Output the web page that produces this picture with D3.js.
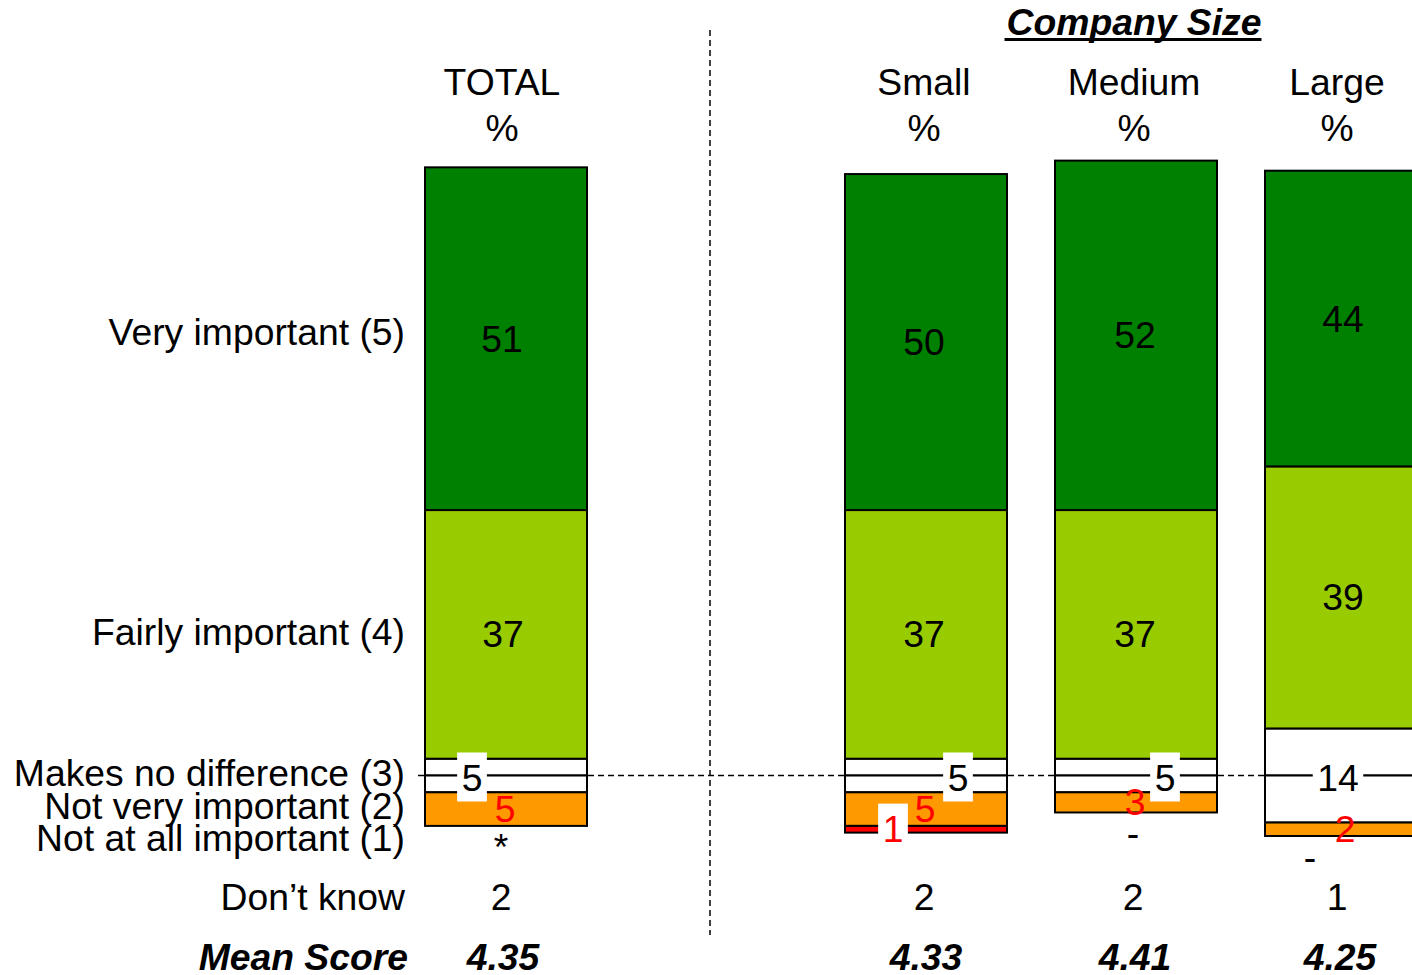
<!DOCTYPE html>
<html><head><meta charset="utf-8">
<script src="https://cdn.jsdelivr.net/npm/d3@7"></script>
<style>body{margin:0;background:#fff}svg{display:block}text{font-family:"Liberation Sans",Arial,sans-serif}</style>
</head><body><svg id="c" width="1412" height="975"></svg>
<script>
// ---- data ----
const groups = ["TOTAL", "Small", "Medium", "Large"];
const veryImportant = [51, 50, 52, 44];
const fairlyImportant = [37, 37, 37, 39];
const noDifference = [5, 5, 5, 14];
const notVeryImportant = [5, 5, 3, 2];
const notAtAllImportant = [0, 1, 0, 0];
const notAtAllLabels = ["*", "1", "-", "-"];
const dontKnow = ["2", "2", "2", "1"];
const meanScore = ["4.35", "4.33", "4.41", "4.25"];
const rowLabels = ["Very important (5)", "Fairly important (4)", "Makes no difference (3)", "Not very important (2)", "Not at all important (1)"];
const superTitle = "Company Size";

// ---- layout ----
const FS = 37.3;
const svg = d3.select("#c");
const slots = ["TOTAL", "_gap", "Small", "Medium", "Large"];
const x = d3.scaleBand().domain(slots).range([425, 1427]).paddingInner(48 / 210).paddingOuter(0).align(0);
const y = d3.scaleLinear().domain([0, 1]).range([775.5, 775.5 - 6.72]);
const cx = g => x(g) + x.bandwidth() / 2;
const colors = { very: "#008000", fairly: "#99CC00", neutral: "#FFFFFF", notVery: "#FF9900", notAtAll: "#FF0000" };

// dashed guides
svg.append("line").attr("x1", 710).attr("x2", 710).attr("y1", 30).attr("y2", 935)
  .attr("stroke", "#000").attr("stroke-width", 1.5).attr("stroke-dasharray", "6,4");
svg.append("line").attr("x1", 418).attr("x2", 1412).attr("y1", y(0)).attr("y2", y(0))
  .attr("stroke", "#000").attr("stroke-width", 1.5).attr("stroke-dasharray", "6,4");

// segments
const segs = [];
groups.forEach((g, i) => {
  const n = noDifference[i] / 2;
  const f = fairlyImportant[i], v = veryImportant[i], nv = notVeryImportant[i], na = notAtAllImportant[i];
  segs.push({ g, key: "neutral", y0: 0, y1: n });
  segs.push({ g, key: "fairly", y0: n, y1: n + f });
  segs.push({ g, key: "very", y0: n + f, y1: n + f + v });
  segs.push({ g, key: "neutral", y0: -n, y1: 0 });
  segs.push({ g, key: "notVery", y0: -n - nv, y1: -n });
  segs.push({ g, key: "notAtAll", y0: -n - nv - na, y1: -n - nv });
});
svg.append("g").selectAll("rect").data(segs.filter(s => s.y1 - s.y0 > 0)).join("rect")
  .attr("x", d => x(d.g)).attr("width", x.bandwidth())
  .attr("y", d => y(d.y1)).attr("height", d => y(d.y0) - y(d.y1))
  .attr("fill", d => colors[d.key]).attr("stroke", "#000").attr("stroke-width", 2);

function label(tx, ty, text, opts = {}) {
  const gg = svg.append("g");
  const t = gg.append("text").attr("x", tx).attr("y", ty + 13).attr("text-anchor", opts.anchor || "middle")
    .attr("font-size", opts.size || FS).attr("fill", opts.fill || "#000")
    .attr("font-weight", opts.bold ? "bold" : null).attr("font-style", opts.italic ? "italic" : null).text(text);
  if (opts.box) {
    const w = t.node().getComputedTextLength() + 9;
    gg.insert("rect", "text").attr("x", tx - w / 2).attr("y", ty - 25).attr("width", w).attr("height", 49).attr("fill", "#fff");
  }
  return t;
}

const veryDx = [-4, -2, -1, -3];
const fairlyDx = [-3, -2, -1, -3];
const neutralDx = [-34, 32, 29, -8];
const zeroDx = [-5, 0, -3, -36];
const dkDx = [-5, -2, -3, -9];
const meanDx = [-3, 0, -1, -6];
groups.forEach((g, i) => {
  const n = noDifference[i] / 2;
  const c = cx(g);
  label(c + veryDx[i], y(n + fairlyImportant[i] + veryImportant[i] / 2), veryImportant[i]);
  label(c + fairlyDx[i], y(n + fairlyImportant[i] / 2), fairlyImportant[i]);
  label(c + neutralDx[i], y(0) + 2, noDifference[i], { box: true });
  label(c - 1, y(-n - notVeryImportant[i] / 2), notVeryImportant[i], { fill: "#FF0000" });
  if (notAtAllImportant[i] > 0) {
    label(c - 33, y(-n - notVeryImportant[i] - notAtAllImportant[i]) - 4, notAtAllLabels[i], { fill: "#FF0000", box: true });
  } else {
    const bottom = y(-n - notVeryImportant[i]);
    label(c + zeroDx[i], bottom + 21, notAtAllLabels[i]);
  }
  label(c + dkDx[i], 897, dontKnow[i]);
  label(c + meanDx[i], 957, meanScore[i], { bold: true, italic: true });
});

// headers
const headDx = [-4, -2, -2, -9];
groups.forEach((g, i) => {
  label(cx(g) + headDx[i], 82, g);
  label(cx(g) + headDx[i], 128, "%");
});
const st = label(1134, 22, superTitle, { bold: true, italic: true });
const stw = st.node().getComputedTextLength();
svg.append("line").attr("x1", 1134 - stw / 2 - 2).attr("x2", 1134 + stw / 2).attr("y1", 39.5).attr("y2", 39.5)
  .attr("stroke", "#000").attr("stroke-width", 3);

// row labels
const rowY = [332, 632, 773, 806, 838];
rowLabels.forEach((r, i) => label(405, rowY[i], r, { anchor: "end" }));
label(405, 897, "Don’t know", { anchor: "end" });
label(408, 957, "Mean Score", { anchor: "end", bold: true, italic: true });
</script></body></html>
